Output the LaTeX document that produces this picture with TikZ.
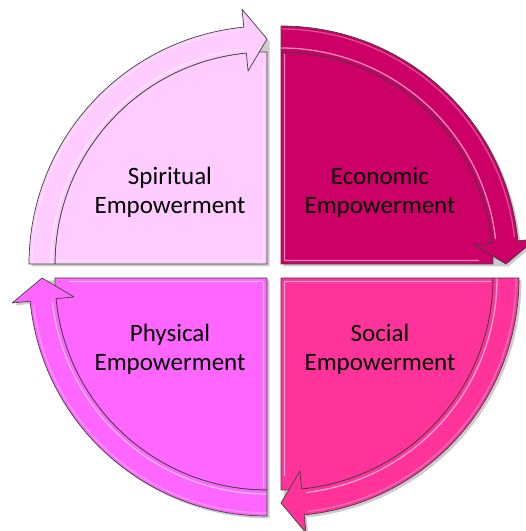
\documentclass[tikz,border=0pt]{standalone}
\usepackage{fontspec}
\setmainfont{Carlito}
\usetikzlibrary{calc}
\definecolor{spir}{HTML}{FFCCFF}
\definecolor{econ}{HTML}{CC0066}
\definecolor{soc}{HTML}{FF3399}
\definecolor{phys}{HTML}{FF66FF}
\begin{document}
\begin{tikzpicture}[x=1pt,y=1pt,
  outl/.style={draw=black!75, line width=0.7pt, line join=round},
  shad/.style={fill=black, opacity=0.2},
  hilite/.style={draw=white, opacity=0.55, line width=1.3pt},
  lbl/.style={font=\fontsize{25}{29}\selectfont, align=center, text=black}]
\useasboundingbox (0,0) rectangle (526,531);
\def\Ri{212}\def\Ro{238}\def\Rm{225}\def\Rha{194}\def\Rhb{256}
\def\Rl{216}\def\Rp{3.5}
\foreach \cx/\cy/\s/\col in {267/267/180/spir, 281/267/90/econ, 281/253/0/soc, 267/253/-90/phys}{
  \pgfmathsetmacro\e{\s-90}
  \pgfmathsetmacro\b{\e+5.6}
  \pgfmathsetmacro\Rq{\Ri-2}
  \pgfmathsetmacro\Rr{\Ri-14}
  \pgfmathsetmacro\Ros{\Ro-3}
  \pgfmathsetmacro\sa{\s-45}
  \pgfmathsetmacro\sb{\s-90}
  \pgfmathsetmacro\eb{\e+90}
  \pgfmathsetmacro\bb{\b+1}
  \begin{scope}[shift={(\cx,\cy)}]
    % shadow
    \fill[shad, shift={(2.5,-2.5)}] (0,0) -- (\s:\Ro) arc[start angle=\s, end angle=\b, radius=\Ro]
      -- (\b:\Rhb) -- (\e:\Rm) -- cycle;
    % pie segment
    \fill[\col] (0,0) -- (\s:\Ri) arc[start angle=\s, end angle=\e, radius=\Ri] -- cycle;
    \draw[outl] (0,0) -- (\s:\Ri) arc[start angle=\s, end angle=\e, radius=\Ri] -- cycle;
    % edge highlights of the pie
    \draw[hilite] ($(\sa:5)$) -- ($(\s:\Rq)+(\sb:\Rp)$);
    \draw[hilite] ($(\sa:5)$) -- ($(\e:\Rr)+(\eb:\Rp)$);
    % curved arrow
    \fill[\col] (\s:\Ro) arc[start angle=\s, end angle=\b, radius=\Ro]
      -- (\b:\Rhb) -- (\e:\Rm) -- (\b:\Rha) -- (\b:\Ri)
      arc[start angle=\b, end angle=\s, radius=\Ri] -- cycle;
    \draw[hilite] (\s:\Rl) arc[start angle=\s, end angle=\bb, radius=\Rl];
    \draw[hilite, opacity=0.3] (\s:\Ros) arc[start angle=\s, end angle=\bb, radius=\Ros];
    \draw[outl] (\s:\Ro) arc[start angle=\s, end angle=\b, radius=\Ro]
      -- (\b:\Rhb) -- (\e:\Rm) -- (\b:\Rha) -- (\b:\Ri)
      arc[start angle=\b, end angle=\s, radius=\Ri] -- cycle;
  \end{scope}
}
\node[lbl] (spiritual) at (170,339) {Spiritual\\Empowerment};
\node[lbl] (economic) at (380,339) {Economic\\Empowerment};
\node[lbl] (physical) at (170,182) {Physical\\Empowerment};
\node[lbl] (social) at (380,182) {Social\\Empowerment};
\end{tikzpicture}
\end{document}
